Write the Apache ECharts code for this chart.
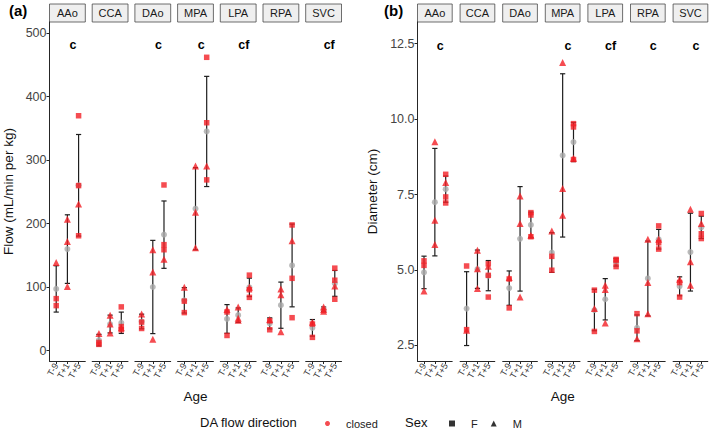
<!DOCTYPE html>
<html><head><meta charset="utf-8">
<script src="https://cdn.jsdelivr.net/npm/echarts@6/dist/echarts.min.js"></script>
<style>html,body{margin:0;padding:0;background:#fff}#c{width:709px;height:430px}</style>
</head><body><div id="c"></div>
<script>
// ---- data ----
const organs = ['AAo','CCA','DAo','MPA','LPA','RPA','SVC'];
const ages = ['T-9','T+1','T+5'];
// per organ: [T-9, T+1, T+5] lists of values
const flowF = [
  [[82,71],[],[370,260,181]],
  [[13,10],[],[69,38,33]],
  [[45,35],[],[261,167,159]],
  [[78,60],[],[462,359,269]],
  [[61,24],[],[119,96,84]],
  [[47,33],[],[198,114,52]],
  [[42,21],[],[130,111,81]]
];
const flowM = [
  [[139],[207,172,101],[231]],
  [[27],[56,42,28],[36]],
  [[58],[159,124,18],[144]],
  [[100],[291,218,162],[291]],
  [[65],[69,51,48],[100]],
  [[49],[97,88,30],[173]],
  [[45],[69,65,62],[102]]
];
const diamF = [
  [[5.15,5.3],[],[8.17,7.42,7.22]],
  [[5.13,3.02],[],[5.2,4.82,4.1]],
  [[4.7,3.74],[],[6.9,6.82,6.1]],
  [[5.45,4.99],[],[9.85,9.74,8.66]],
  [[4.33,2.96],[],[5.35,5.31,5.11]],
  [[3.55,2.98],[],[6.46,5.9,5.69]],
  [[4.58,4.1],[],[6.87,6.2,6.04]]
];
const diamM = [
  [[4.3],[9.25,6.65,5.84],[7.9]],
  [[3.0],[5.65,5.04,4.38],[5.12]],
  [[4.75],[7.45,6.54,4.1],[6.15]],
  [[6.29],[11.88,7.7,6.81],[8.7]],
  [[3.72],[4.49,4.35,3.24],[]],
  [[2.72],[6.02,4.58,3.55],[6.02]],
  [[4.69],[7.01,5.27,4.49],[6.54]]
];
const flowLetters = ['c','','c','c','cf','','cf'];
const diamLetters = ['c','','','c','cf','c','c'];
const flowTicks = [0,100,200,300,400,500];
const diamTicks = [2.5,5,7.5,10,12.5];

// ---- style / layout ----
const FONT = '"Liberation Sans", Arial, Helvetica, sans-serif';
const RED = '#F31F25', GRAY = '#A9A9A9', DARK = '#262626';
const TOP = 22, BOTTOM = 361;
const panels = [
  {F: flowF, M: flowM, letters: flowLetters, ticks: flowTicks, min: -16.2, max: 517.6,
   left: 49.5, step: 42.7, width: 35.8, title: 'Flow (mL/min per kg)', nameGap: 34,
   letterY: 481, fmt: v => String(v), tag: '(a)', tagX: 9},
  {F: diamF, M: diamM, letters: diamLetters, ticks: diamTicks, min: 1.98, max: 13.22,
   left: 417.5, step: 42.6, width: 34.7, title: 'Diameter (cm)', nameGap: 38,
   letterY: 12.43, fmt: v => v.toFixed(1), tag: '(b)', tagX: 384}
];

function meanSd(arr){
  const n = arr.length, m = arr.reduce((a,b)=>a+b,0)/n;
  const v = arr.reduce((a,b)=>a+(b-m)*(b-m),0)/(n-1);
  return [m, Math.sqrt(v)];
}

const grid = [], xAxis = [], yAxis = [], series = [], graphic = [];
let g = 0;
panels.forEach((P, pi) => {
  graphic.push({type:'text', left: P.tagX, top: 3, style:{text: P.tag, font: 'bold 15px ' + FONT, fill: '#000'}});
  organs.forEach((org, oi) => {
    const L = P.left + oi * P.step;
    grid.push({left: L, top: TOP, width: P.width, height: BOTTOM - TOP, containLabel: false});
    graphic.push({type:'rect', shape:{x: L, y: 4, width: P.width, height: 18},
      style:{fill:'#EFEFEF', stroke:'#4A4A4A', lineWidth: 0.8}});
    graphic.push({type:'text', x: L + P.width/2, y: 13,
      style:{text: org, font: '11px ' + FONT, fill:'#1A1A1A', align:'center', verticalAlign:'middle'}});
    const xa = {gridIndex: g, type:'value', min: 0.4, max: 3.6,
      axisLine:{show:true, onZero:false, lineStyle:{color: DARK, width: 1}},
      axisTick:{show:true, customValues:[1,2,3], length: 3, lineStyle:{color: DARK}},
      axisLabel:{customValues:[1,2,3], formatter: v => ages[Math.round(v)-1], rotate: 60,
        fontSize: 9, color:'#3A3A3A', margin: 3, fontFamily: FONT},
      splitLine:{show:false}};
    if (oi === 3) {
      xa.name = 'Age'; xa.nameLocation = 'middle'; xa.nameGap = 28;
      xa.nameTextStyle = {fontSize: 13.5, color:'#111', fontFamily: FONT};
    }
    xAxis.push(xa);
    const ya = {gridIndex: g, type:'value', min: P.min, max: P.max, show: oi === 0,
      axisLine:{show:true, lineStyle:{color: DARK, width: 1}},
      axisTick:{show:true, customValues: P.ticks, length: 3, lineStyle:{color: DARK}},
      axisLabel:{customValues: P.ticks, formatter: P.fmt, fontSize: 12.5, color:'#444', margin: 3, fontFamily: FONT},
      splitLine:{show:false}};
    if (oi === 0) {
      ya.name = P.title; ya.nameLocation = 'middle'; ya.nameGap = P.nameGap;
      ya.nameTextStyle = {fontSize: 13.5, color:'#111', fontFamily: FONT};
    }
    yAxis.push(ya);

    const eb = [], means = [], fPts = [], mPts = [];
    ages.forEach((a, ai) => {
      const x = ai + 1;
      const all = P.F[oi][ai].concat(P.M[oi][ai]);
      if (all.length) {
        const [m, sd] = meanSd(all);
        eb.push([x, m - sd, m + sd]);
        means.push([x, m]);
      }
      P.F[oi][ai].forEach(v => fPts.push([x, v]));
      P.M[oi][ai].forEach(v => mPts.push([x, v]));
    });
    series.push({type:'custom', xAxisIndex: g, yAxisIndex: g, silent: true, z: 2,
      encode:{x: 0, y: [1, 2]}, data: eb,
      renderItem: (params, api) => {
        const x = api.value(0);
        const pLo = api.coord([x, api.value(1)]), pHi = api.coord([x, api.value(2)]);
        const hw = 2.6, st = {stroke: '#1E1E1E', lineWidth: 1.2};
        return {type:'group', children:[
          {type:'line', shape:{x1:pHi[0], y1:pHi[1], x2:pLo[0], y2:pLo[1]}, style: st},
          {type:'line', shape:{x1:pHi[0]-hw, y1:pHi[1], x2:pHi[0]+hw, y2:pHi[1]}, style: st},
          {type:'line', shape:{x1:pLo[0]-hw, y1:pLo[1], x2:pLo[0]+hw, y2:pLo[1]}, style: st}
        ]};
      }});
    series.push({type:'scatter', name:'mean', xAxisIndex: g, yAxisIndex: g, z: 3, silent: true,
      symbol:'circle', symbolSize: 6, itemStyle:{color: GRAY}, data: means});
    series.push({type:'scatter', name:'F', xAxisIndex: g, yAxisIndex: g, z: 4, silent: true,
      symbol:'rect', symbolSize: 5.5, itemStyle:{color: RED}, data: fPts});
    series.push({type:'scatter', name:'M', xAxisIndex: g, yAxisIndex: g, z: 4, silent: true,
      symbol:'triangle', symbolSize: 7, itemStyle:{color: RED}, data: mPts});
    const letter = P.letters[oi];
    if (letter) {
      series.push({type:'custom', xAxisIndex: g, yAxisIndex: g, silent: true, z: 5,
        data: [[2.5, P.letterY]],
        renderItem: (params, api) => {
          const p = api.coord([api.value(0), api.value(1)]);
          return {type:'text', x: p[0], y: p[1],
            style:{text: letter, font: 'bold 12.5px ' + FONT, fill:'#000', align:'center', verticalAlign:'middle'}};
        }});
    }
    g++;
  });
});
series.push({type:'scatter', name:'closed', xAxisIndex: 0, yAxisIndex: 0, data: [], itemStyle:{color: RED}});

graphic.push({type:'text', left: 200, top: 416, style:{text:'DA flow direction', font:'13px ' + FONT, fill:'#111'}});
graphic.push({type:'text', left: 405, top: 416, style:{text:'Sex', font:'13px ' + FONT, fill:'#111'}});

const legendText = {fontSize: 11, color:'#222', fontFamily: FONT};
const option = {
  animation: false,
  backgroundColor: '#fff',
  grid, xAxis, yAxis, series, graphic,
  legend: [
    {data:[{name:'closed', icon:'circle', itemStyle:{color: RED}}], left: 320, top: 413,
     itemWidth: 5, itemHeight: 5, selectedMode: false,
     textStyle: Object.assign({padding:[0,0,0,11]}, legendText)},
    {data:[{name:'F', icon:'rect', itemStyle:{color:'#000'}}, {name:'M', icon:'triangle', itemStyle:{color:'#000'}}],
     left: 444, top: 413, itemWidth: 6, itemHeight: 6, itemGap: 13, selectedMode: false,
     textStyle: Object.assign({padding:[0,0,0,11]}, legendText)}
  ]
};
const chart = echarts.init(document.getElementById('c'), null, {renderer: 'svg'});
chart.setOption(option);
</script></body></html>
